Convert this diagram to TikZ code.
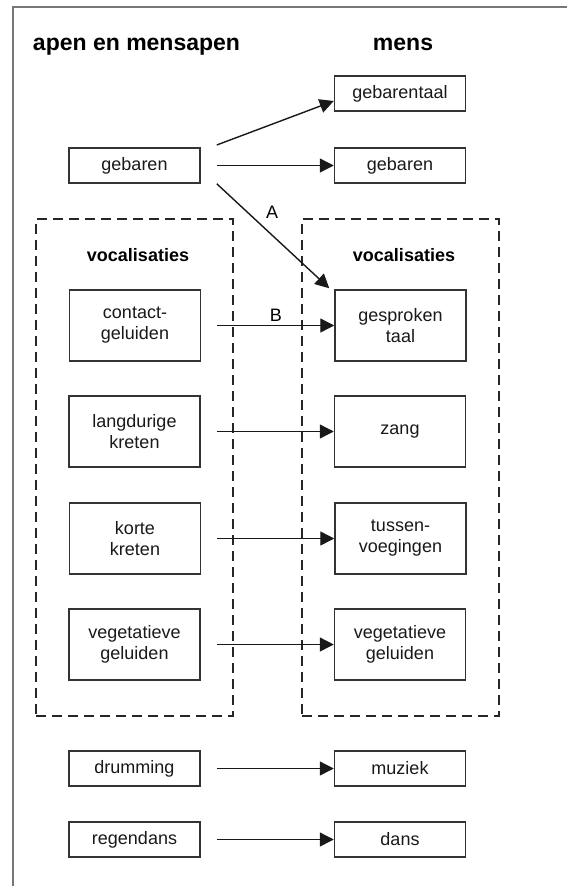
\documentclass[tikz,border=0pt]{standalone}
\usepackage{fontspec}
\setmainfont{Liberation Sans}
\usetikzlibrary{arrows.meta}
\definecolor{boxgray}{HTML}{333333}
\definecolor{framegray}{HTML}{777777}
\begin{document}
\begin{tikzpicture}[x=1pt,y=-1pt,
  box/.style={draw=boxgray, line width=1.5pt, minimum width=131pt, inner sep=0pt,
    font=\fontsize{18}{21}\selectfont, text=black!90, align=center},
  sbox/.style={box, minimum height=35pt},
  dbox/.style={box, minimum height=71pt},
  grp/.style={draw=black!85, line width=2.2pt, dash pattern=on 10pt off 6pt,
    minimum width=197pt, minimum height=497pt, inner sep=0pt},
  arr/.style={-{Triangle[length=14pt,width=14pt]}, line width=1.4pt, draw=black!90},
  titletext/.style={font=\fontsize{23}{27}\selectfont\bfseries, anchor=base},
  headtext/.style={font=\fontsize{18}{21}\selectfont\bfseries},
  lbl/.style={font=\fontsize{18}{21}\selectfont, inner sep=1pt}]
\useasboundingbox[fill=white] (0,0) rectangle (566,886);
% outer frame
\draw[framegray, line width=2pt] (13,890) -- (13,6.5) -- (570,6.5);
% titles
\node[titletext] (t1) at (136.5,50) {apen en mensapen};
\node[titletext] (t2) at (403,50) {mens};
% dashed groups
\node[grp] (gl) at (134.5,467.5) {};
\node[grp] (gr) at (400.5,467.5) {};
\node[headtext] (vl) at (138,255) {vocalisaties};
\node[headtext] (vr) at (404,255) {vocalisaties};
% boxes
\node[sbox] (gL) at (134.5,165.5) {gebaren};
\node[sbox] (gtR) at (400,93.5) {gebarentaal};
\node[sbox] (gR) at (400,165.5) {gebaren};
\node[dbox] (cL) at (135,325.5) {contact-\\geluiden};
\node[dbox] (cR) at (400.5,325.5) {gesproken\\taal};
\node[dbox] (lL) at (134.5,431.5) {langdurige\\kreten};
\node[dbox] (lR) at (400,431.5) {zang};
\node[dbox] (kL) at (135,538.5) {korte\\kreten};
\node[dbox] (kR) at (400.5,538.5) {tussen-\\voegingen};
\node[dbox] (vL) at (134.5,644.5) {vegetatieve\\geluiden};
\node[dbox] (vR) at (400,644.5) {vegetatieve\\geluiden};
\node[sbox] (dL) at (134.5,768.5) {drumming};
\node[sbox] (dR) at (400,768.5) {muziek};
\node[sbox] (rL) at (134.5,839.5) {regendans};
\node[sbox] (rR) at (400,839.5) {dans};
% arrows
\draw[arr] ([xshift=16pt,yshift=20.5pt]gL.east) -- ([yshift=-7.5pt]gtR.west);
\draw[arr] ([xshift=16pt]gL.east) -- (gR.west);
\draw[arr] ([xshift=16pt]gL.south east) -- ([xshift=-5pt,yshift=1pt]cR.north west);
\node[lbl] (A) at (272,212) {A};
\draw[arr] ([xshift=16pt]cL.east) -- (cR.west) node[lbl, midway, above=2pt] (B) {B};
\draw[arr] ([xshift=16pt]lL.east) -- (lR.west);
\draw[arr] ([xshift=16pt]kL.east) -- (kR.west);
\draw[arr] ([xshift=16pt]vL.east) -- (vR.west);
\draw[arr] ([xshift=16pt]dL.east) -- (dR.west);
\draw[arr] ([xshift=16pt]rL.east) -- (rR.west);
\end{tikzpicture}
\end{document}
